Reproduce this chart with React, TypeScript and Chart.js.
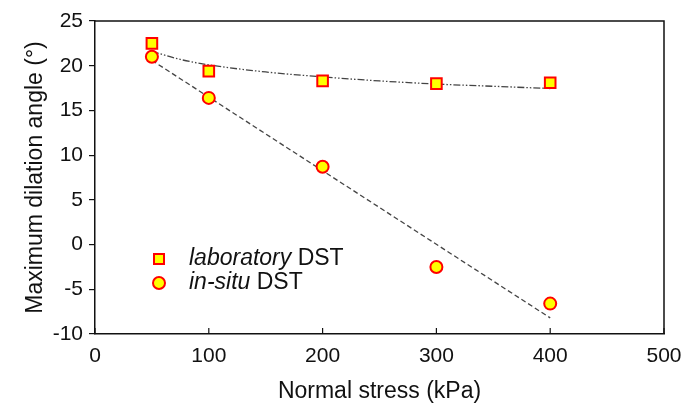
import { useEffect, useRef } from 'react'
import Chart from 'chart.js/auto'
import type { ChartConfiguration, Plugin } from 'chart.js'

// measured points
const stress = [50, 100, 200, 300, 400]
const labAngle = [22.5, 19.4, 18.3, 18.0, 18.1]
const situAngle = [21.0, 16.4, 8.7, -2.5, -6.6]

// fitted trend lines
const labFitX = [50, 75, 100, 150, 200, 250, 300, 350, 400]
const labFitY = [21.6, 20.7, 20.1, 19.3, 18.75, 18.3, 17.95, 17.7, 17.45]
const situFitX = [50, 400]
const situFitY = [20.6, -8.2]

const xTicks = [0, 100, 200, 300, 400, 500]

const FONT = 'Liberation Sans, Arial, sans-serif'
const YELLOW = '#FFFF00'
const RED = '#FF0000'

const pts = (xs: number[], ys: number[]) => xs.map((x, i) => ({ x, y: ys[i] }))

// box frame, inward x ticks and the mixed-style legend
const framePlugin: Plugin<'line'> = {
  id: 'frame',
  afterDraw(chart) {
    const { ctx, chartArea: a } = chart
    const xs = chart.scales.x
    ctx.save()
    ctx.strokeStyle = '#111'
    ctx.lineWidth = 1.5
    ctx.beginPath()
    ctx.moveTo(a.left, a.top)
    ctx.lineTo(a.right, a.top)
    ctx.lineTo(a.right, a.bottom)
    ctx.stroke()
    ctx.lineWidth = 1.2
    xTicks.forEach((v) => {
      const px = xs.getPixelForValue(v)
      ctx.beginPath()
      ctx.moveTo(px, a.bottom)
      ctx.lineTo(px, a.bottom - 6)
      ctx.stroke()
    })

    // legend
    const lx = a.left + 64
    const tx = a.left + 94
    const rows = [
      { y: a.top + 238, italic: 'laboratory', rest: ' DST', style: 'rect' },
      { y: a.top + 262, italic: 'in-situ', rest: ' DST', style: 'circle' },
    ]
    rows.forEach((r) => {
      ctx.fillStyle = YELLOW
      ctx.strokeStyle = RED
      ctx.lineWidth = 2
      ctx.beginPath()
      if (r.style === 'rect') {
        ctx.rect(lx - 5, r.y - 5, 10, 10)
      } else {
        ctx.arc(lx, r.y, 6, 0, Math.PI * 2)
      }
      ctx.fill()
      ctx.stroke()
      ctx.fillStyle = '#111'
      ctx.textBaseline = 'middle'
      ctx.font = `italic 23px ${FONT}`
      ctx.fillText(r.italic, tx, r.y)
      const w = ctx.measureText(r.italic).width
      ctx.font = `23px ${FONT}`
      ctx.fillText(r.rest, tx + w, r.y)
    })
    ctx.restore()
  },
}

export default function App() {
  const canvasRef = useRef<HTMLCanvasElement>(null)

  useEffect(() => {
    document.body.style.margin = '0'
    if (!canvasRef.current) return
    const ctx = canvasRef.current.getContext('2d')
    if (!ctx) return

    const config: ChartConfiguration<'line'> = {
      type: 'line',
      data: {
        datasets: [
          {
            label: 'laboratory DST',
            data: pts(stress, labAngle),
            showLine: false,
            pointStyle: 'rect',
            pointRadius: 7.5,
            pointBorderWidth: 2,
            pointBackgroundColor: YELLOW,
            pointBorderColor: RED,
            order: 0,
          },
          {
            label: 'in-situ DST',
            data: pts(stress, situAngle),
            showLine: false,
            pointStyle: 'circle',
            pointRadius: 6,
            pointBorderWidth: 2,
            pointBackgroundColor: YELLOW,
            pointBorderColor: RED,
            order: 0,
          },
          {
            label: 'laboratory fit',
            data: pts(labFitX, labFitY),
            borderColor: '#444',
            borderWidth: 1.3,
            borderDash: [7, 2, 1.5, 2, 1.5, 2],
            pointRadius: 0,
            cubicInterpolationMode: 'monotone',
            fill: false,
            order: 1,
          },
          {
            label: 'in-situ fit',
            data: pts(situFitX, situFitY),
            borderColor: '#444',
            borderWidth: 1.3,
            borderDash: [5, 3],
            pointRadius: 0,
            fill: false,
            order: 1,
          },
        ],
      },
      options: {
        responsive: false,
        animation: false,
        layout: { padding: { left: 22, right: 36, top: 21, bottom: 0 } },
        plugins: {
          legend: { display: false },
          tooltip: { enabled: false },
        },
        scales: {
          x: {
            type: 'linear',
            min: 0,
            max: 500,
            afterFit: (s) => {
              s.height = 86
            },
            afterBuildTicks: (s) => {
              s.ticks = xTicks.map((v) => ({ value: v }))
            },
            title: {
              display: true,
              text: 'Normal stress (kPa)',
              color: '#111',
              font: { family: FONT, size: 23 },
              padding: { top: 0, bottom: 15 },
            },
            ticks: {
              color: '#111',
              font: { family: FONT, size: 21 },
              padding: 10,
              maxRotation: 0,
            },
            grid: { display: false, drawTicks: false },
            border: { color: '#111', width: 1.5 },
          },
          y: {
            type: 'linear',
            min: -10,
            max: 25,
            afterFit: (s) => {
              s.width = 73
            },
            title: {
              display: true,
              text: 'Maximum dilation angle (°)',
              color: '#111',
              font: { family: FONT, size: 23 },
              padding: { top: 0, bottom: 4 },
            },
            ticks: {
              stepSize: 5,
              color: '#111',
              font: { family: FONT, size: 21 },
              padding: 6,
            },
            grid: {
              drawOnChartArea: false,
              drawTicks: true,
              tickLength: 6,
              color: '#111',
              lineWidth: 1.2,
            },
            border: { color: '#111', width: 1.5 },
          },
        },
      },
      plugins: [framePlugin],
    }

    const chart = new Chart(ctx, config)
    return () => chart.destroy()
  }, [])

  return (
    <div style={{ width: 700, height: 420, background: '#fff' }}>
      <canvas ref={canvasRef} width={700} height={420} />
    </div>
  )
}
